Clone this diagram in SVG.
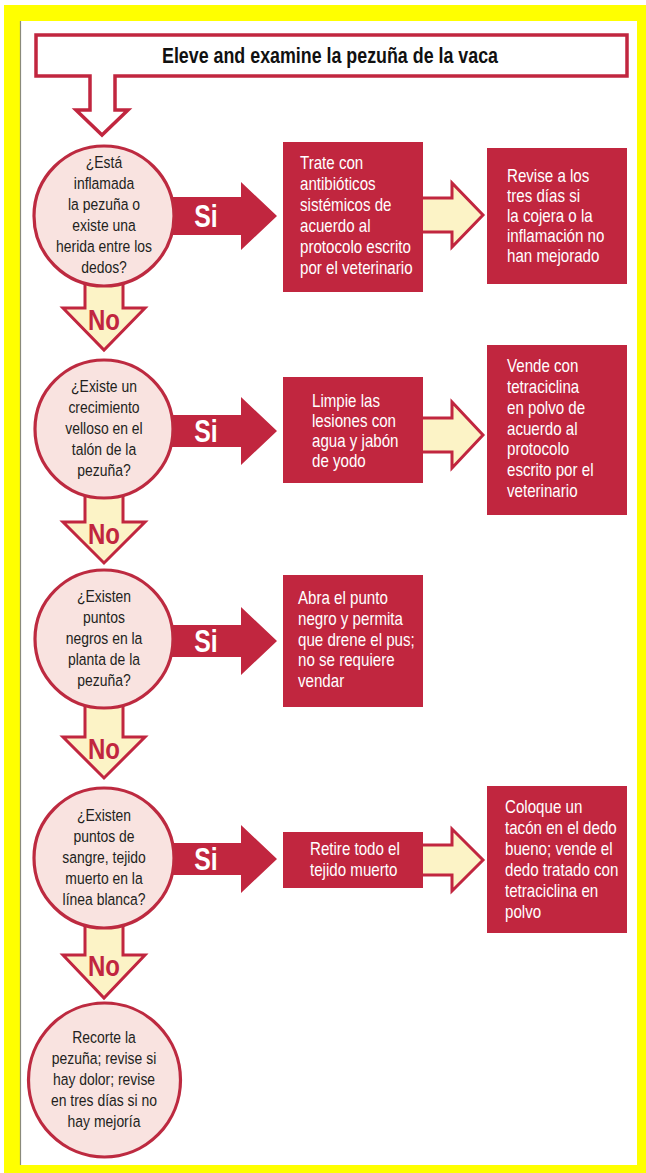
<svg xmlns="http://www.w3.org/2000/svg" width="646" height="1173" viewBox="0 0 646 1173">
<style>
.frame{fill:#ffff00}
.paper{fill:#ffffff}
.edge{stroke:#8a8a7a;stroke-width:1.2}
.box{fill:#c1263f}
.circ{fill:#f9e3e0;stroke:#bd2a40;stroke-width:3.2}
.solid{fill:#c1263f}
.hollow{fill:#fcf3c6;stroke:#c1263f;stroke-width:3;stroke-linejoin:miter}
.title{fill:#ffffff;stroke:#c1263f;stroke-width:3.5;stroke-linejoin:miter}
text{font-family:"Liberation Sans Narrow","Liberation Sans",Arial,sans-serif}
.tt{font-size:22px;font-weight:bold;fill:#111;text-anchor:middle}
.ct{font-size:17px;fill:#231f20;text-anchor:middle}
.bt{font-size:18px;fill:#ffffff}
.si{font-size:31px;font-weight:bold;fill:#ffffff;text-anchor:middle}
.no{font-size:30px;font-weight:bold;fill:#c1263f;text-anchor:middle}
</style>
<rect class="frame" x="4" y="5" width="642" height="1168"/>
<rect class="paper" x="20" y="21" width="617" height="1144"/>
<line class="edge" x1="20.5" y1="21" x2="20.5" y2="1165"/>

<g id="connectors">
  <polygon class="solid" points="160,197 241,197 241,182 277,216 241,250 241,235 160,235"/>
  <polygon class="solid" points="160,415 241,415 241,397 277,431 241,465 241,447 160,447"/>
  <polygon class="solid" points="160,625 241,625 241,607 277,641 241,675 241,657 160,657"/>
  <polygon class="solid" points="160,843 241,843 241,825 277,859 241,893 241,875 160,875"/>
  <g transform="translate(206 0) scale(0.8 1)">
    <text class="si" x="0" y="227">Si</text>
    <text class="si" x="0" y="442">Si</text>
    <text class="si" x="0" y="652">Si</text>
    <text class="si" x="0" y="870">Si</text>
  </g>
  <path class="hollow" d="M420,198 H452 V183 L483,215 L452,247 V232 H420 Z"/>
  <path class="hollow" d="M420,418 H452 V402 L483,435 L452,468 V452 H420 Z"/>
  <path class="hollow" d="M420,845 H452 V829 L483,860 L452,891 V875 H420 Z"/>
  <path class="hollow" d="M85,230 V308 H63 L104,350 L145,308 H123 V230 Z"/>
  <path class="hollow" d="M85,440 V522 H63 L104,563 L145,522 H123 V440 Z"/>
  <path class="hollow" d="M85,650 V737 H63 L104,778 L145,737 H123 V650 Z"/>
  <path class="hollow" d="M85,870 V955 H63 L104,998 L145,955 H123 V870 Z"/>
  <g transform="translate(104 0) scale(0.8 1)">
    <text class="no" x="0" y="330">No</text>
    <text class="no" x="0" y="544">No</text>
    <text class="no" x="0" y="759">No</text>
    <text class="no" x="0" y="976">No</text>
  </g>
</g>

<g id="start">
  <path class="title" d="M36,35 H627 V76 H115 V110 H128 L102,135 L76,110 H90 V76 H36 Z"/>
  <text class="tt" x="330" y="63" textLength="336" lengthAdjust="spacingAndGlyphs">Eleve and examine la pezuña de la vaca</text>
</g>

<g id="q1">
  <circle class="circ" cx="104" cy="216" r="70"/>
  <g transform="translate(104 0) scale(0.82 1)">
    <text class="ct" x="0" y="168.5">¿Está</text>
    <text class="ct" x="0" y="189.5">inflamada</text>
    <text class="ct" x="0" y="210.5">la pezuña o</text>
    <text class="ct" x="0" y="231.5">existe una</text>
    <text class="ct" x="0" y="252.5">herida entre los</text>
    <text class="ct" x="0" y="273.5">dedos?</text>
  </g>
</g>
<g id="a1">
  <rect class="box" x="283" y="142" width="140" height="150"/>
  <g transform="translate(300 0) scale(0.84 1)">
    <text class="bt" x="0" y="169">Trate con</text>
    <text class="bt" x="0" y="190">antibióticos</text>
    <text class="bt" x="0" y="211">sistémicos de</text>
    <text class="bt" x="0" y="232">acuerdo al</text>
    <text class="bt" x="0" y="253">protocolo escrito</text>
    <text class="bt" x="0" y="274">por el veterinario</text>
  </g>
</g>
<g id="b1">
  <rect class="box" x="487" y="148" width="140" height="136"/>
  <g transform="translate(507 0) scale(0.84 1)">
    <text class="bt" x="0" y="182">Revise a los</text>
    <text class="bt" x="0" y="202">tres días si</text>
    <text class="bt" x="0" y="222">la cojera o la</text>
    <text class="bt" x="0" y="242">inflamación no</text>
    <text class="bt" x="0" y="262">han mejorado</text>
  </g>
</g>

<g id="q2">
  <circle class="circ" cx="104" cy="429" r="69"/>
  <g transform="translate(104 0) scale(0.82 1)">
    <text class="ct" x="0" y="392">¿Existe un</text>
    <text class="ct" x="0" y="413">crecimiento</text>
    <text class="ct" x="0" y="434">velloso en el</text>
    <text class="ct" x="0" y="455">talón de la</text>
    <text class="ct" x="0" y="476">pezuña?</text>
  </g>
</g>
<g id="a2">
  <rect class="box" x="283" y="377" width="140" height="106"/>
  <g transform="translate(312 0) scale(0.84 1)">
    <text class="bt" x="0" y="407">Limpie las</text>
    <text class="bt" x="0" y="427">lesiones con</text>
    <text class="bt" x="0" y="447">agua y jabón</text>
    <text class="bt" x="0" y="467">de yodo</text>
  </g>
</g>
<g id="b2">
  <rect class="box" x="487" y="345" width="140" height="170"/>
  <g transform="translate(507 0) scale(0.84 1)">
    <text class="bt" x="0" y="372">Vende con</text>
    <text class="bt" x="0" y="393">tetraciclina</text>
    <text class="bt" x="0" y="414">en polvo de</text>
    <text class="bt" x="0" y="435">acuerdo al</text>
    <text class="bt" x="0" y="455">protocolo</text>
    <text class="bt" x="0" y="476">escrito por el</text>
    <text class="bt" x="0" y="497">veterinario</text>
  </g>
</g>

<g id="q3">
  <circle class="circ" cx="104" cy="639" r="69"/>
  <g transform="translate(104 0) scale(0.82 1)">
    <text class="ct" x="0" y="602">¿Existen</text>
    <text class="ct" x="0" y="623">puntos</text>
    <text class="ct" x="0" y="644">negros en la</text>
    <text class="ct" x="0" y="665">planta de la</text>
    <text class="ct" x="0" y="686">pezuña?</text>
  </g>
</g>
<g id="a3">
  <rect class="box" x="283" y="575" width="140" height="132"/>
  <g transform="translate(298 0) scale(0.84 1)">
    <text class="bt" x="0" y="604">Abra el punto</text>
    <text class="bt" x="0" y="625">negro y permita</text>
    <text class="bt" x="0" y="646">que drene el pus;</text>
    <text class="bt" x="0" y="666">no se requiere</text>
    <text class="bt" x="0" y="687">vendar</text>
  </g>
</g>

<g id="q4">
  <circle class="circ" cx="104" cy="858" r="70"/>
  <g transform="translate(104 0) scale(0.82 1)">
    <text class="ct" x="0" y="821">¿Existen</text>
    <text class="ct" x="0" y="842">puntos de</text>
    <text class="ct" x="0" y="863">sangre, tejido</text>
    <text class="ct" x="0" y="884">muerto en la</text>
    <text class="ct" x="0" y="905">línea blanca?</text>
  </g>
</g>
<g id="a4">
  <rect class="box" x="283" y="832" width="140" height="56"/>
  <g transform="translate(310 0) scale(0.84 1)">
    <text class="bt" x="0" y="855">Retire todo el</text>
    <text class="bt" x="0" y="876">tejido muerto</text>
  </g>
</g>
<g id="b4">
  <rect class="box" x="487" y="786" width="140" height="147"/>
  <g transform="translate(505 0) scale(0.84 1)">
    <text class="bt" x="0" y="813">Coloque un</text>
    <text class="bt" x="0" y="834">tacón en el dedo</text>
    <text class="bt" x="0" y="855">bueno; vende el</text>
    <text class="bt" x="0" y="876">dedo tratado con</text>
    <text class="bt" x="0" y="897">tetraciclina en</text>
    <text class="bt" x="0" y="918">polvo</text>
  </g>
</g>

<g id="end">
  <ellipse class="circ" cx="104.5" cy="1080" rx="76" ry="77"/>
  <g transform="translate(104 0) scale(0.82 1)">
    <text class="ct" x="0" y="1043">Recorte la</text>
    <text class="ct" x="0" y="1064">pezuña; revise si</text>
    <text class="ct" x="0" y="1085">hay dolor; revise</text>
    <text class="ct" x="0" y="1106">en tres días si no</text>
    <text class="ct" x="0" y="1127">hay mejoría</text>
  </g>
</g>
</svg>
